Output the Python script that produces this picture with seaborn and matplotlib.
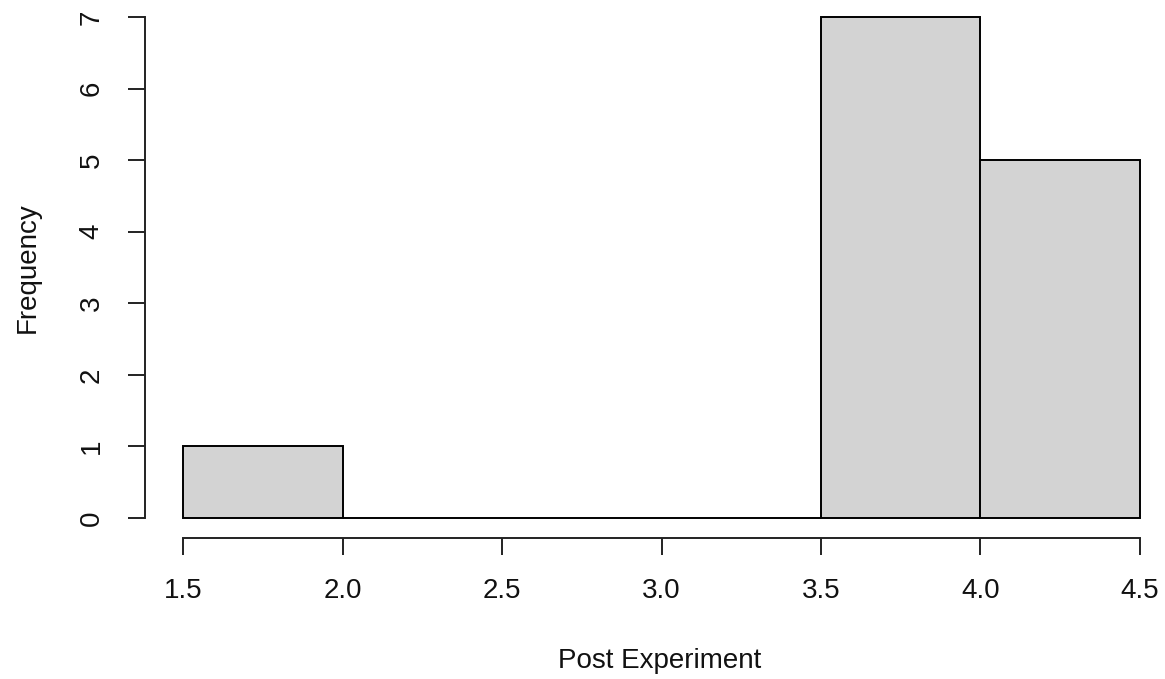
import matplotlib
matplotlib.use('Agg')
from matplotlib import pyplot as plt
import seaborn as sns

# histogram bins
bin_edges = [1.5, 2.0, 2.5, 3.0, 3.5, 4.0, 4.5]
bin_centers = [1.75, 2.25, 2.75, 3.25, 3.75, 4.25]
counts = [1, 0, 0, 0, 7, 5]
x_ticks = [1.5, 2.0, 2.5, 3.0, 3.5, 4.0, 4.5]
x_tick_labels = ['1.5', '2.0', '2.5', '3.0', '3.5', '4.0', '4.5']
y_ticks = [0, 1, 2, 3, 4, 5, 6, 7]

sns.set_style('white')
plt.rcParams['font.family'] = ['Liberation Sans', 'DejaVu Sans']
plt.rcParams['text.color'] = '#111111'
plt.rcParams['axes.labelcolor'] = '#111111'

W, H = 1165, 679
fig = plt.figure(figsize=(W / 100, H / 100), dpi=100)
# R-style plot region: 4% padding around the data range, partly cropped
left, right, bottom, top = 145, 1178, 538, -3
ax = fig.add_axes([left / W, (H - bottom) / H, (right - left) / W, (bottom - top) / H])

sns.histplot(
    x=bin_centers,
    weights=counts,
    bins=bin_edges,
    color='#D3D3D3',
    edgecolor='black',
    linewidth=1.4,
    alpha=1,
    ax=ax,
)
ax.set_xlim(1.38, 4.62)
ax.set_ylim(-0.28, 7.28)

for s in ['top', 'right']:
    ax.spines[s].set_visible(False)
for s in ['left', 'bottom']:
    ax.spines[s].set_linewidth(1.4)
    ax.spines[s].set_color('#222222')
ax.spines['left'].set_bounds(0, 7)
ax.spines['bottom'].set_bounds(1.5, 4.5)

ax.set_xticks(x_ticks)
ax.set_xticklabels(x_tick_labels)
ax.set_yticks(y_ticks)
ax.tick_params(axis='both', direction='out', length=12, width=1.4, color='#222222',
               labelsize=20, labelcolor='#111111', pad=17, bottom=True, left=True)
ax.tick_params(axis='y', labelrotation=90)
for lbl in ax.get_yticklabels():
    lbl.set_va('center')

ax.set_xlabel('Post Experiment', fontsize=20)
ax.set_ylabel('Frequency', fontsize=20)
ax.xaxis.set_label_coords((660 - left) / (right - left), (bottom - 661) / (bottom - top))
ax.xaxis.label.set_va('center')
ax.yaxis.set_label_coords((28 - left) / (right - left), 0.5)
ax.yaxis.label.set_va('center')

fig.savefig('out.png', dpi=100)
